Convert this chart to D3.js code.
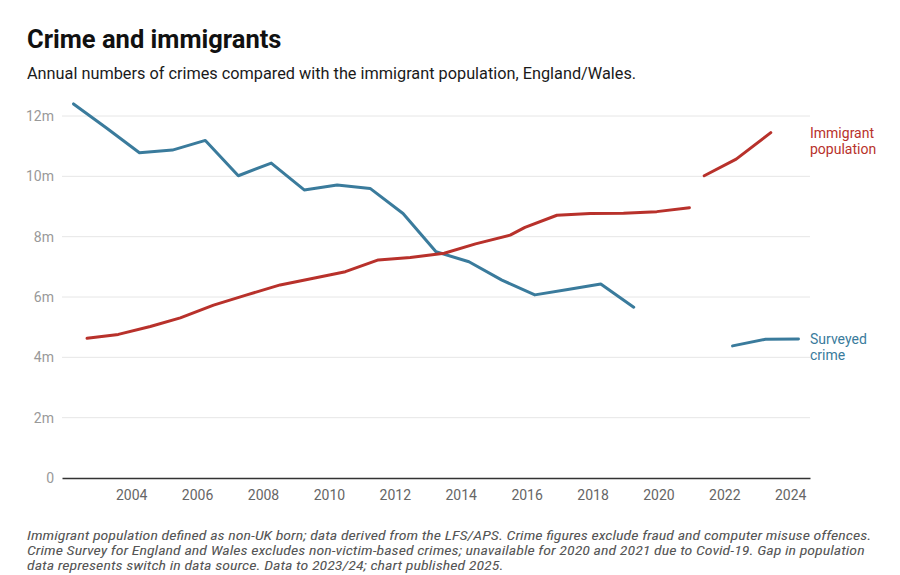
<!DOCTYPE html>
<html>
<head>
<meta charset="utf-8">
<script src="https://cdn.jsdelivr.net/npm/d3@7"></script>
<style>
  html, body { margin: 0; padding: 0; background: #fff; }
  svg { display: block; font-family: Roboto, "Noto Sans", sans-serif; }
</style>
</head>
<body>
<svg id="chart" width="900" height="575"></svg>
<script>
// ---- Data ----
const crimeYears = [2002.25, 2003.25, 2004.25, 2005.25, 2006.25, 2007.25, 2008.25, 2009.25, 2010.25, 2011.25, 2012.25, 2013.25, 2014.25, 2015.25, 2016.25, 2017.25, 2018.25, 2019.25, 2020.25, 2021.25, 2022.25, 2023.25, 2024.25];
const crimeValues = [12.40, 11.60, 10.78, 10.87, 11.19, 10.02, 10.44, 9.55, 9.71, 9.60, 8.77, 7.50, 7.17, 6.56, 6.07, 6.25, 6.43, 5.66, null, null, 4.38, 4.60, 4.61];

const immYears = [2002.66, 2003.61, 2004.58, 2005.49, 2006.50, 2007.51, 2008.52, 2009.53, 2010.50, 2011.50, 2012.47, 2013.50, 2014.45, 2015.50, 2015.95, 2016.92, 2017.93, 2018.94, 2019.95, 2020.94, 2021.20, 2021.39, 2022.36, 2023.41];
const immValues = [4.63, 4.76, 5.02, 5.31, 5.73, 6.07, 6.40, 6.62, 6.84, 7.23, 7.31, 7.45, 7.76, 8.05, 8.31, 8.71, 8.77, 8.78, 8.83, 8.96, null, 10.02, 10.57, 11.45];

const yTicks = [0, 2, 4, 6, 8, 10, 12];
const yTickLabels = ["0", "2m", "4m", "6m", "8m", "10m", "12m"];
const xTicks = [2004, 2006, 2008, 2010, 2012, 2014, 2016, 2018, 2020, 2022, 2024];

const titleText = "Crime and immigrants";
const subtitleText = "Annual numbers of crimes compared with the immigrant population, England/Wales.";
const footLines = [
  "Immigrant population defined as non-UK born; data derived from the LFS/APS. Crime figures exclude fraud and computer misuse offences.",
  "Crime Survey for England and Wales excludes non-victim-based crimes; unavailable for 2020 and 2021 due to Covid-19. Gap in population",
  "data represents switch in data source. Data to 2023/24; chart published 2025."
];
const seriesLabels = [
  { lines: ["Immigrant", "population"], color: "#b8312b", y: 138 },
  { lines: ["Surveyed", "crime"], color: "#3a7b9c", y: 344 }
];

// ---- Layout ----
const svg = d3.select("#chart");
const plotL = 62, plotR = 810, plotT = 116, plotB = 478;

const x = d3.scaleLinear().domain([2001.9, 2024.6]).range([plotL, plotR]);
const y = d3.scaleLinear().domain([0, 12]).range([plotB, plotT]);

// Title & subtitle
svg.append("text").attr("x", 27).attr("y", 48)
  .attr("font-size", 25.5).attr("font-weight", 700).attr("fill", "#111")
  .text(titleText);
svg.append("text").attr("x", 27).attr("y", 79)
  .attr("font-size", 16.3).attr("fill", "#1a1a1a")
  .text(subtitleText);

// Gridlines
svg.append("g").selectAll("line").data(yTicks.filter(d => d > 0)).join("line")
  .attr("x1", plotL).attr("x2", plotR)
  .attr("y1", d => y(d)).attr("y2", d => y(d))
  .attr("stroke", "#e6e6e6").attr("stroke-width", 1);

// Y axis labels
const yAxis = d3.axisLeft(y).tickValues(yTicks).tickSize(0).tickPadding(8)
  .tickFormat((d, i) => yTickLabels[i]);
const gy = svg.append("g").attr("transform", `translate(${plotL},0)`).call(yAxis);
gy.select(".domain").remove();
gy.selectAll("text").attr("font-size", 14).attr("fill", "#999")
  .attr("font-family", "Roboto, sans-serif");

// X axis
const xAxis = d3.axisBottom(x).tickValues(xTicks).tickSize(0).tickPadding(12)
  .tickFormat(d3.format("d"));
const gx = svg.append("g").attr("transform", `translate(0,${plotB})`).call(xAxis);
gx.select(".domain").attr("stroke", "#333").attr("stroke-width", 1.5);
gx.selectAll("text").attr("font-size", 14).attr("fill", "#666")
  .attr("font-family", "Roboto, sans-serif");

// Lines
const line = d3.line()
  .defined(d => d[1] !== null)
  .x(d => x(d[0])).y(d => y(d[1]));

svg.append("path")
  .datum(crimeYears.map((yr, i) => [yr, crimeValues[i]]))
  .attr("d", line).attr("fill", "none")
  .attr("stroke", "#3a7b9c").attr("stroke-width", 3)
  .attr("stroke-linejoin", "round").attr("stroke-linecap", "round");

svg.append("path")
  .datum(immYears.map((yr, i) => [yr, immValues[i]]))
  .attr("d", line).attr("fill", "none")
  .attr("stroke", "#b8312b").attr("stroke-width", 3)
  .attr("stroke-linejoin", "round").attr("stroke-linecap", "round");

// Series labels
seriesLabels.forEach(s => {
  const t = svg.append("text").attr("x", plotR).attr("y", s.y)
    .attr("font-size", 14).attr("fill", s.color);
  s.lines.forEach((l, i) => {
    t.append("tspan").attr("x", plotR).attr("dy", i === 0 ? 0 : 16).text(l);
  });
});

// Footnote
const foot = svg.append("g");
const ft = foot.selectAll("text").data(footLines).join("text")
  .attr("x", 0).attr("y", (d, i) => 540 + i * 15)
  .attr("font-size", 13.5).attr("font-style", "italic").attr("fill", "#555")
  .attr("font-family", "'Roboto Condensed', 'Liberation Sans Narrow', Roboto, sans-serif")
  .text(d => d);
const w0 = ft.nodes()[0].getComputedTextLength();
const sx = 845 / w0;
foot.attr("transform", `translate(27,0) scale(${sx},1)`);
</script>
</body>
</html>
